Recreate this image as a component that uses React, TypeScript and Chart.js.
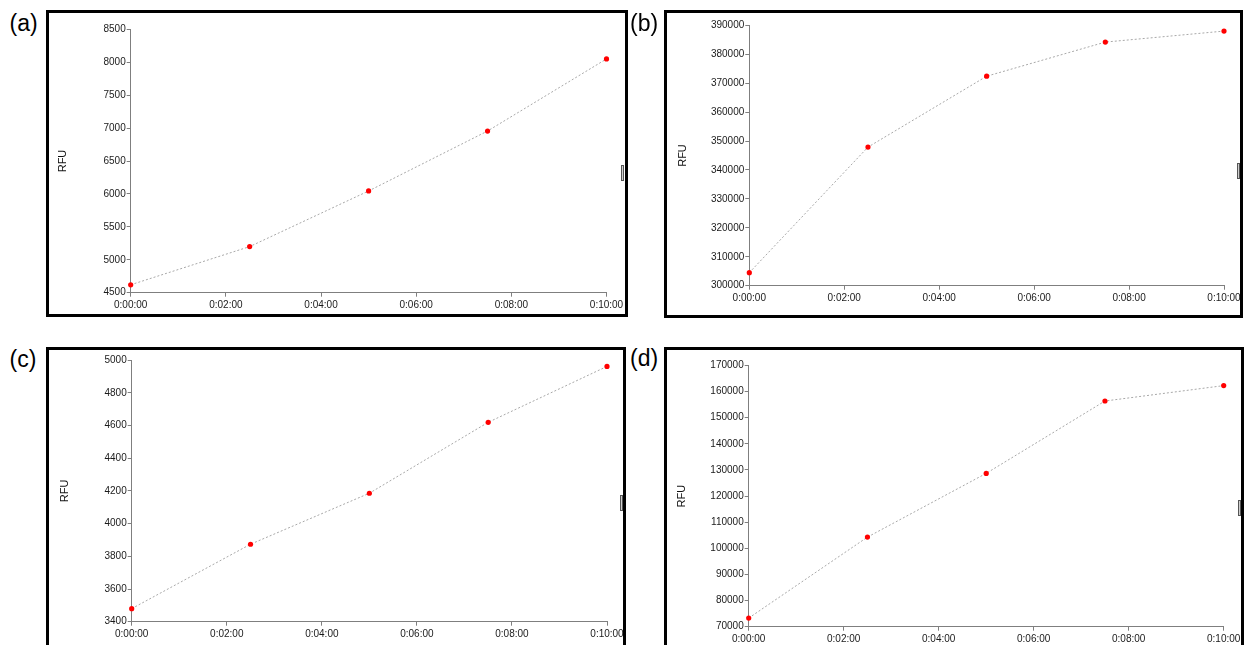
import React, { useEffect, useRef } from "react";
import { Chart, registerables } from "chart.js";

Chart.register(...registerables);

// ---- data ----
const timesSec = [0, 150, 300, 450, 600];
const seriesA = [4620, 5200, 6045, 6955, 8050];
const seriesB = [304500, 347900, 372400, 384200, 388000];
const seriesC = [3480, 3874, 4186, 4620, 4962];
const seriesD = [73300, 104300, 128700, 156400, 162300];
const yRangeA = [4500, 8500, 500];
const yRangeB = [300000, 390000, 10000];
const yRangeC = [3400, 5000, 200];
const yRangeD = [70000, 170000, 10000];
const xRange = [0, 600, 120];
const panelLabels = ["(a)", "(b)", "(c)", "(d)"];
const yTitle = "RFU";

// ---- layout (page coordinates) ----
const layouts = [
  { box: [46, 10, 628, 317], area: [130.7, 606.5, 29.3, 292.7], titleOff: 17, label: [9.5, 12], handle: [621, 165] },
  { box: [664, 10, 1243, 318], area: [749.3, 1224, 25.3, 285.7], titleOff: 19, label: [630, 12], handle: [1237, 163] },
  { box: [46, 347, 626, 662], area: [131.7, 607, 360.2, 621.7], titleOff: 19, label: [9.5, 348], handle: [620, 495] },
  { box: [664, 347, 1244, 662], area: [748.7, 1223.7, 365.5, 626.7], titleOff: 18, label: [630, 346.5], handle: [1238, 500] },
];

const FONT = "'Liberation Sans', Arial, Helvetica, sans-serif";
const AXIS = "#7f7f7f";

function fmtTime(v: number): string {
  const h = Math.floor(v / 3600);
  const m = Math.floor((v % 3600) / 60);
  const s = Math.round(v % 60);
  const p = (n: number) => (n < 10 ? "0" + n : String(n));
  return `${h}:${p(m)}:${p(s)}`;
}

type Lay = (typeof layouts)[number];

function Panel({ values, yRange, lay, label }: { values: number[]; yRange: number[]; lay: Lay; label: string }) {
  const ref = useRef<HTMLCanvasElement | null>(null);
  const [bl, bt, br, bb] = lay.box;
  const [al, ar, at, ab] = lay.area;
  const boxW = br - bl;
  const boxH = bb - bt;
  const W = Math.ceil(ar - bl + 22);
  const H = boxH;
  const yWidth = al - bl;
  const xHeight = H - (ab - bt);
  const padTop = at - bt;
  const padRight = W - (ar - bl);

  useEffect(() => {
    if (!ref.current) return;
    const chart = new Chart(ref.current, {
      type: "line",
      data: {
        datasets: [
          {
            data: timesSec.map((t, i) => ({ x: t, y: values[i] })),
            borderColor: "#a8a8a8",
            borderWidth: 1,
            borderDash: [2, 2],
            pointRadius: 2.6,
            pointHoverRadius: 2.6,
            pointBackgroundColor: "#ff0000",
            pointBorderColor: "#ff0000",
            pointBorderWidth: 0,
            tension: 0,
            fill: false,
            clip: false as any,
          },
        ],
      },
      options: {
        animation: false,
        responsive: false,
        maintainAspectRatio: false,
        events: [],
        layout: { padding: { top: padTop, right: padRight, left: 0, bottom: 0 } },
        plugins: { legend: { display: false }, tooltip: { enabled: false } },
        scales: {
          x: {
            type: "linear",
            min: xRange[0],
            max: xRange[1],
            ticks: {
              stepSize: xRange[2],
              callback: (v: any) => fmtTime(Number(v)),
              font: { family: FONT, size: 10 },
              color: "#1a1a1a",
              padding: 3,
              maxRotation: 0,
              autoSkip: false,
            },
            grid: { display: true, drawOnChartArea: false, drawTicks: true, tickLength: 4, color: AXIS, lineWidth: 1 },
            border: { display: true, color: AXIS, width: 1 },
            afterFit: (s: any) => {
              s.height = xHeight;
            },
          },
          y: {
            type: "linear",
            min: yRange[0],
            max: yRange[1],
            ticks: {
              stepSize: yRange[2],
              callback: (v: any) => String(v),
              font: { family: FONT, size: 10 },
              color: "#1a1a1a",
              padding: 1,
            },
            grid: { display: true, drawOnChartArea: false, drawTicks: true, tickLength: 4, color: AXIS, lineWidth: 1 },
            border: { display: true, color: AXIS, width: 1 },
            title: {
              display: true,
              text: yTitle,
              font: { family: FONT, size: 11 },
              color: "#111",
              padding: { top: lay.titleOff - 6.6, bottom: 0 },
            },
            afterFit: (s: any) => {
              s.width = yWidth;
            },
          },
        },
      },
    });
    return () => chart.destroy();
  }, []);

  return (
    <>
      <div
        style={{
          position: "absolute",
          left: bl,
          top: bt,
          width: boxW,
          height: boxH,
          overflow: "hidden",
        }}
      >
        <canvas ref={ref} width={W} height={H} style={{ position: "absolute", left: 0, top: 0, width: W, height: H }} />
      </div>
      <div
        style={{
          position: "absolute",
          left: bl,
          top: bt,
          width: boxW,
          height: boxH,
          boxSizing: "border-box",
          border: "3px solid #000",
          pointerEvents: "none",
        }}
      />
      <div
        style={{
          position: "absolute",
          left: lay.handle[0],
          top: lay.handle[1],
          width: 3,
          height: 16,
          boxSizing: "border-box",
          border: "1px solid #555",
          background: "#cfcfcf",
        }}
      />
      <div
        style={{
          position: "absolute",
          left: lay.label[0],
          top: lay.label[1],
          font: `23px ${FONT}`,
          lineHeight: "23px",
          color: "#000",
          whiteSpace: "nowrap",
        }}
      >
        {label}
      </div>
    </>
  );
}

export default function App() {
  const all = [seriesA, seriesB, seriesC, seriesD];
  const ranges = [yRangeA, yRangeB, yRangeC, yRangeD];
  return (
    <div
      style={{
        position: "absolute",
        left: 0,
        top: 0,
        width: 1244,
        height: 645,
        overflow: "hidden",
        background: "#fff",
      }}
    >
      {all.map((vals, i) => (
        <Panel key={i} values={vals} yRange={ranges[i]} lay={layouts[i]} label={panelLabels[i]} />
      ))}
    </div>
  );
}
